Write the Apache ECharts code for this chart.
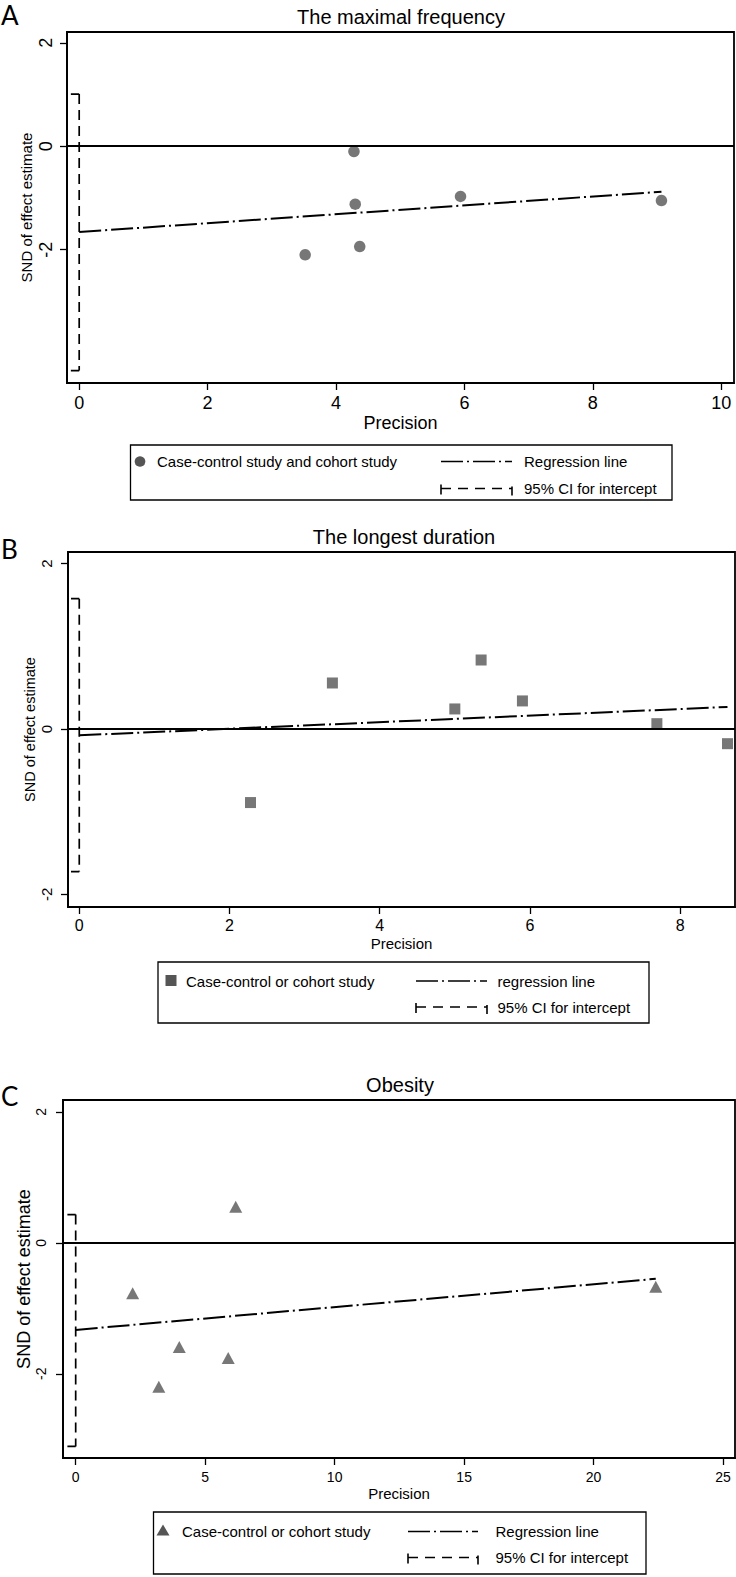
<!DOCTYPE html>
<html>
<head>
<meta charset="utf-8">
<script src="https://cdn.jsdelivr.net/npm/echarts@6/dist/echarts.min.js"></script>
<style>html,body{margin:0;padding:0;background:#fff}#c{width:736px;height:1577px}</style>
</head>
<body>
<div id="c"></div>
<script>
// ---------- DATA ----------
// Panel A: The maximal frequency
const aPrecision = [4.28, 4.30, 5.94, 9.07, 4.37, 3.52];
const aSND       = [-0.10, -1.12, -0.97, -1.05, -1.94, -2.10];
const aRegX      = [0, 9.07];
const aRegY      = [-1.66, -0.88];
const aCI        = [1.01, -4.34];
const aXTicks    = [0, 2, 4, 6, 8, 10];
const aYTicks    = [-2, 0, 2];

// Panel B: The longest duration
const bPrecision = [2.28, 3.37, 5.00, 5.35, 5.90, 7.69, 8.63];
const bSND       = [-0.89, 0.556, 0.242, 0.834, 0.339, 0.064, -0.178];
const bRegX      = [0, 8.63];
const bRegY      = [-0.077, 0.266];
const bCI        = [1.575, -1.725];
const bXTicks    = [0, 2, 4, 6, 8];
const bYTicks    = [-2, 0, 2];

// Panel C: Obesity
const cPrecision = [2.2, 6.18, 4.0, 3.21, 5.89, 22.4];
const cSND       = [-0.77, 0.55, -1.59, -2.2, -1.76, -0.67];
const cRegX      = [0, 22.4];
const cRegY      = [-1.33, -0.55];
const cCI        = [0.43, -3.11];
const cXTicks    = [0, 5, 10, 15, 20, 25];
const cYTicks    = [-2, 0, 2];

// ---------- STYLE ----------
const FONT = "'Liberation Sans', Arial, Helvetica, sans-serif";
const MARK = '#555555';
const REG_DASH = [22, 4, 2, 4];
const CI_DASH = [10, 6];

const panels = [
  {grid:{left:67, top:32, width:667, height:351}, x:[-0.19, 10.2], y:[-4.58, 2.21],
   xt:aXTicks, yt:aYTicks, px:aPrecision, py:aSND, rx:aRegX, ry:aRegY, ci:aCI, cap:0.13,
   sym:'circle', ss:11.5, tickFs:18, yTickFs:18, xMargin:11, yMargin:12, nameFs:18, nameGap:31,
   yNameFs:15, yNameGap:33},
  {grid:{left:68, top:552, width:667, height:355}, x:[-0.15, 8.73], y:[-2.153, 2.14],
   xt:bXTicks, yt:bYTicks, px:bPrecision, py:bSND, rx:bRegX, ry:bRegY, ci:bCI, cap:0.11,
   sym:'rect', ss:11, tickFs:16, yTickFs:15, xMargin:10, yMargin:14, nameFs:15, nameGap:29,
   yNameFs:14.5, yNameGap:31},
  {grid:{left:63, top:1100, width:672, height:358}, x:[-0.49, 25.46], y:[-3.286, 2.18],
   xt:cXTicks, yt:cYTicks, px:cPrecision, py:cSND, rx:cRegX, ry:cRegY, ci:cCI, cap:0.32,
   sym:'triangle', ss:[13, 12], tickFs:14, yTickFs:14, xMargin:12, yMargin:15, nameFs:15, nameGap:28,
   yNameFs:18, yNameGap:30}
];

const grids = [], xAxes = [], yAxes = [], series = [];
panels.forEach((p, i) => {
  grids.push(Object.assign({show:true, borderColor:'#000', borderWidth:1.8, backgroundColor:'#fff'}, p.grid));
  xAxes.push({
    type:'value', gridIndex:i, min:p.x[0], max:p.x[1],
    name:'Precision', nameLocation:'middle', nameGap:p.nameGap, nameMoveOverlap:false,
    nameTextStyle:{fontSize:p.nameFs, fontFamily:FONT, color:'#000'},
    axisLine:{show:true, onZero:false, lineStyle:{color:'#000', width:1.8}},
    axisTick:{show:true, inside:false, length:7, customValues:p.xt, lineStyle:{color:'#000', width:1.3}},
    axisLabel:{show:true, customValues:p.xt, fontSize:p.tickFs, fontFamily:FONT, color:'#000', margin:p.xMargin,
               showMinLabel:true, showMaxLabel:true},
    splitLine:{show:false}
  });
  yAxes.push({
    type:'value', gridIndex:i, min:p.y[0], max:p.y[1],
    name:'SND of effect estimate', nameLocation:'middle', nameRotate:90, nameGap:p.yNameGap, nameMoveOverlap:false,
    nameTextStyle:{fontSize:p.yNameFs, fontFamily:FONT, color:'#000'},
    axisLine:{show:true, onZero:false, lineStyle:{color:'#000', width:1.8}},
    axisTick:{show:true, inside:false, length:7, customValues:p.yt, lineStyle:{color:'#000', width:1.3}},
    axisLabel:{show:true, customValues:p.yt, rotate:90, fontSize:p.yTickFs, fontFamily:FONT, color:'#000', margin:p.yMargin},
    splitLine:{show:false}
  });
  // CI vertical dashed line at x = 0
  series.push({type:'line', xAxisIndex:i, yAxisIndex:i, data:[[0, p.ci[0]], [0, p.ci[1]]],
    symbol:'none', silent:true, lineStyle:{color:'#000', width:1.7, type:CI_DASH}, z:3});
  // caps (left half visible as in the original)
  series.push({type:'line', xAxisIndex:i, yAxisIndex:i, data:[[-p.cap, p.ci[0]], [0, p.ci[0]]],
    symbol:'none', silent:true, lineStyle:{color:'#000', width:1.7}, z:3});
  series.push({type:'line', xAxisIndex:i, yAxisIndex:i, data:[[-p.cap, p.ci[1]], [0, p.ci[1]]],
    symbol:'none', silent:true, lineStyle:{color:'#000', width:1.7}, z:3});
  // regression line
  series.push({type:'line', xAxisIndex:i, yAxisIndex:i, data:p.rx.map((v, k) => [v, p.ry[k]]),
    symbol:'none', silent:true, lineStyle:{color:'#000', width:2, type:REG_DASH}, z:3});
  // points + zero line
  series.push({type:'scatter', xAxisIndex:i, yAxisIndex:i, data:p.px.map((v, k) => [v, p.py[k]]),
    symbol:p.sym, symbolSize:p.ss, itemStyle:{color:MARK}, z:4,
    markLine:{silent:true, symbol:['none', 'none'], label:{show:false}, animation:false,
      lineStyle:{color:'#000', width:2, type:'solid'}, data:[{yAxis:0}]}});
});

// ---------- texts & legends ----------
const g = [];
function txt(t, x, y, fs, opts) {
  g.push({type:'text', x:x, y:y, style:Object.assign({text:t, fontSize:fs, fontFamily:FONT,
    fill:'#000', align:'left', verticalAlign:'middle'}, opts || {})});
}
// Titles
txt('The maximal frequency', 401, 17, 20, {align:'center'});
txt('The longest duration', 404, 537, 20, {align:'center'});
txt('Obesity', 400, 1085, 20, {align:'center'});
// Panel letters
const LET = "Lato, 'Open Sans', sans-serif";
txt('A', 1, 15, 26, {fontFamily:LET});
txt('B', 1, 549, 26, {fontFamily:LET});
txt('C', 1, 1096, 26, {fontFamily:LET});

function legend(box, r1, r2, marker, label, sx0, sx1, tx, regLabel, markerX, textX) {
  g.push({type:'rect', shape:{x:box[0], y:box[1], width:box[2] - box[0], height:box[3] - box[1]},
    style:{fill:'none', stroke:'#000', lineWidth:1.3}});
  if (marker === 'circle') g.push({type:'circle', shape:{cx:markerX, cy:r1, r:5.3}, style:{fill:MARK}});
  if (marker === 'rect') g.push({type:'rect', shape:{x:markerX - 5.5, y:r1 - 6, width:11, height:11}, style:{fill:MARK}});
  if (marker === 'triangle') g.push({type:'polygon', shape:{points:[[markerX, r1 - 7], [markerX + 6.5, r1 + 4], [markerX - 6.5, r1 + 4]]}, style:{fill:MARK}});
  txt(label, textX, r1, 15);
  g.push({type:'line', shape:{x1:sx0, y1:r1, x2:sx1, y2:r1}, style:{stroke:'#000', lineWidth:1.6, lineDash:REG_DASH}});
  txt(regLabel, tx, r1, 15);
  // CI sample
  g.push({type:'line', shape:{x1:sx0, y1:r2, x2:sx1, y2:r2}, style:{stroke:'#000', lineWidth:1.6, lineDash:[10, 7]}});
  g.push({type:'line', shape:{x1:sx0, y1:r2 - 4, x2:sx0, y2:r2 + 6}, style:{stroke:'#000', lineWidth:1.6}});
  g.push({type:'line', shape:{x1:sx1, y1:r2 - 2, x2:sx1, y2:r2 + 7}, style:{stroke:'#000', lineWidth:1.6}});
  txt('95% CI for intercept', tx, r2, 15);
}
legend([130.5, 445, 672, 500], 461.5, 488.5, 'circle', 'Case-control study and cohort study', 441, 512, 524, 'Regression line', 140, 157);
legend([158, 962, 649, 1023], 981, 1007, 'rect', 'Case-control or cohort study', 416, 487, 497.5, 'regression line', 171, 186);
legend([153.5, 1512, 646, 1574], 1531.5, 1557.5, 'triangle', 'Case-control or cohort study', 408, 478, 495.5, 'Regression line', 163, 182);

const chart = echarts.init(document.getElementById('c'), null, {renderer:'svg', width:736, height:1577});
chart.setOption({
  backgroundColor:'#fff',
  animation:false,
  grid:grids, xAxis:xAxes, yAxis:yAxes, series:series, graphic:g
});
</script>
</body>
</html>
